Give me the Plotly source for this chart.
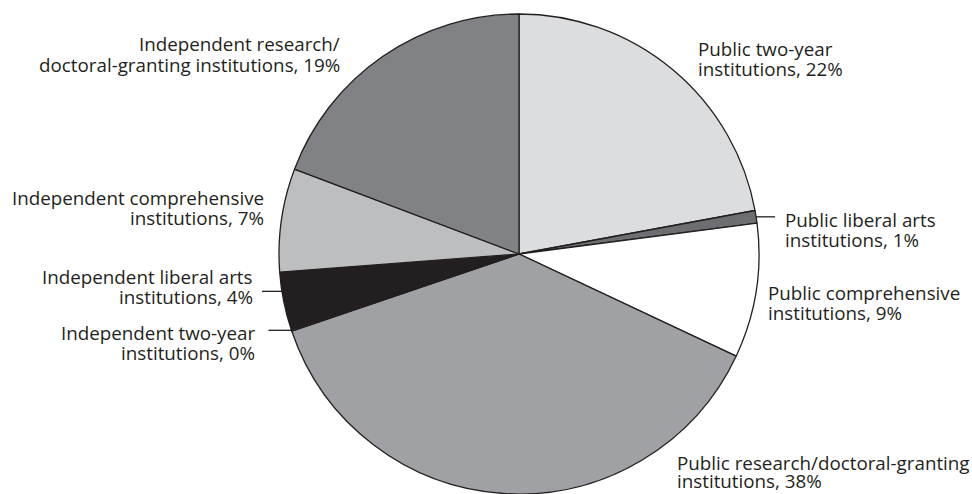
import math
import plotly.graph_objects as go

# ---------------- data ----------------
categories = [
    "Public two-year institutions",
    "Public liberal arts institutions",
    "Public comprehensive institutions",
    "Public research/doctoral-granting institutions",
    "Independent two-year institutions",
    "Independent liberal arts institutions",
    "Independent comprehensive institutions",
    "Independent research/doctoral-granting institutions",
]
values = [22.1, 0.85, 9.05, 37.8, 0.1, 3.9, 6.95, 19.25]
label_line1 = [
    "Public two-year",
    "Public liberal arts",
    "Public comprehensive",
    "Public research/doctoral-granting",
    "Independent two-year",
    "Independent liberal arts",
    "Independent comprehensive",
    "Independent research/",
]
label_line2 = [
    "institutions, 22%",
    "institutions, 1%",
    "institutions, 9%",
    "institutions, 38%",
    "institutions, 0%",
    "institutions, 4%",
    "institutions, 7%",
    "doctoral-granting institutions, 19%",
]
colors = ["#dcdddf", "#6d6e71", "#ffffff", "#a0a1a4",
          "#58595b", "#231f20", "#bcbec0", "#808285"]

# ---------------- layout parameters ----------------
W, H = 972, 494
CX, CY, R = 519, 254, 240          # pie centre / radius in pixels
TEXT = "#231f20"
FONT = "Open Sans"
FS = 18.8

# label placement: (x, y of first line, anchor, line gap)
label_pos = [
    (696, 49, "left", 19.8),
    (783, 220, "left", 19.7),
    (766, 293.3, "left", 19.7),
    (675, 462.5, "left", 18.5),
    (257, 332.8, "right", 20.2),
    (255, 277, "right", 20.3),
    (266, 198, "right", 20.3),
    (342, 44.5, "right", 20.0),
]
# leader lines: (slice index, fraction along slice, outward length)
leaders = [(1, 0.5, 19), (5, 0.67, 20), (4, 0.5, 23)]

fig = go.Figure(go.Pie(
    labels=categories,
    values=values,
    sort=False,
    direction="clockwise",
    rotation=0,
    textinfo="none",
    hoverinfo="label+percent",
    marker=dict(colors=colors, line=dict(color=TEXT, width=1.3)),
    domain=dict(x=[(CX - R) / W, (CX + R) / W],
                y=[(H - CY - R) / H, (H - CY + R) / H]),
    showlegend=False,
))

annotations = []
for (x, y, anchor, gap), l1, l2 in zip(label_pos, label_line1, label_line2):
    for k, txt in enumerate([l1, l2]):
        annotations.append(dict(
            x=x / W, y=1 - (y + k * gap) / H, xref="paper", yref="paper",
            text=txt, showarrow=False, xanchor=anchor, yanchor="middle",
            font=dict(family=FONT, size=FS, color=TEXT),
        ))

total = sum(values)
shapes = []
for idx, frac, length in leaders:
    start = sum(values[:idx])
    ang = 2 * math.pi * (start + frac * values[idx]) / total
    px = CX + R * math.sin(ang)
    py = CY - R * math.cos(ang)
    direction = 1 if math.sin(ang) > 0 else -1
    qx = px + direction * length
    shapes.append(dict(
        type="line", xref="paper", yref="paper",
        x0=px / W, y0=1 - py / H, x1=qx / W, y1=1 - py / H,
        line=dict(color=TEXT, width=1.3),
    ))

fig.update_layout(
    width=W, height=H,
    margin=dict(l=0, r=0, t=0, b=0),
    paper_bgcolor="white", plot_bgcolor="white",
    annotations=annotations, shapes=shapes,
)

fig.write_html("out.html")
